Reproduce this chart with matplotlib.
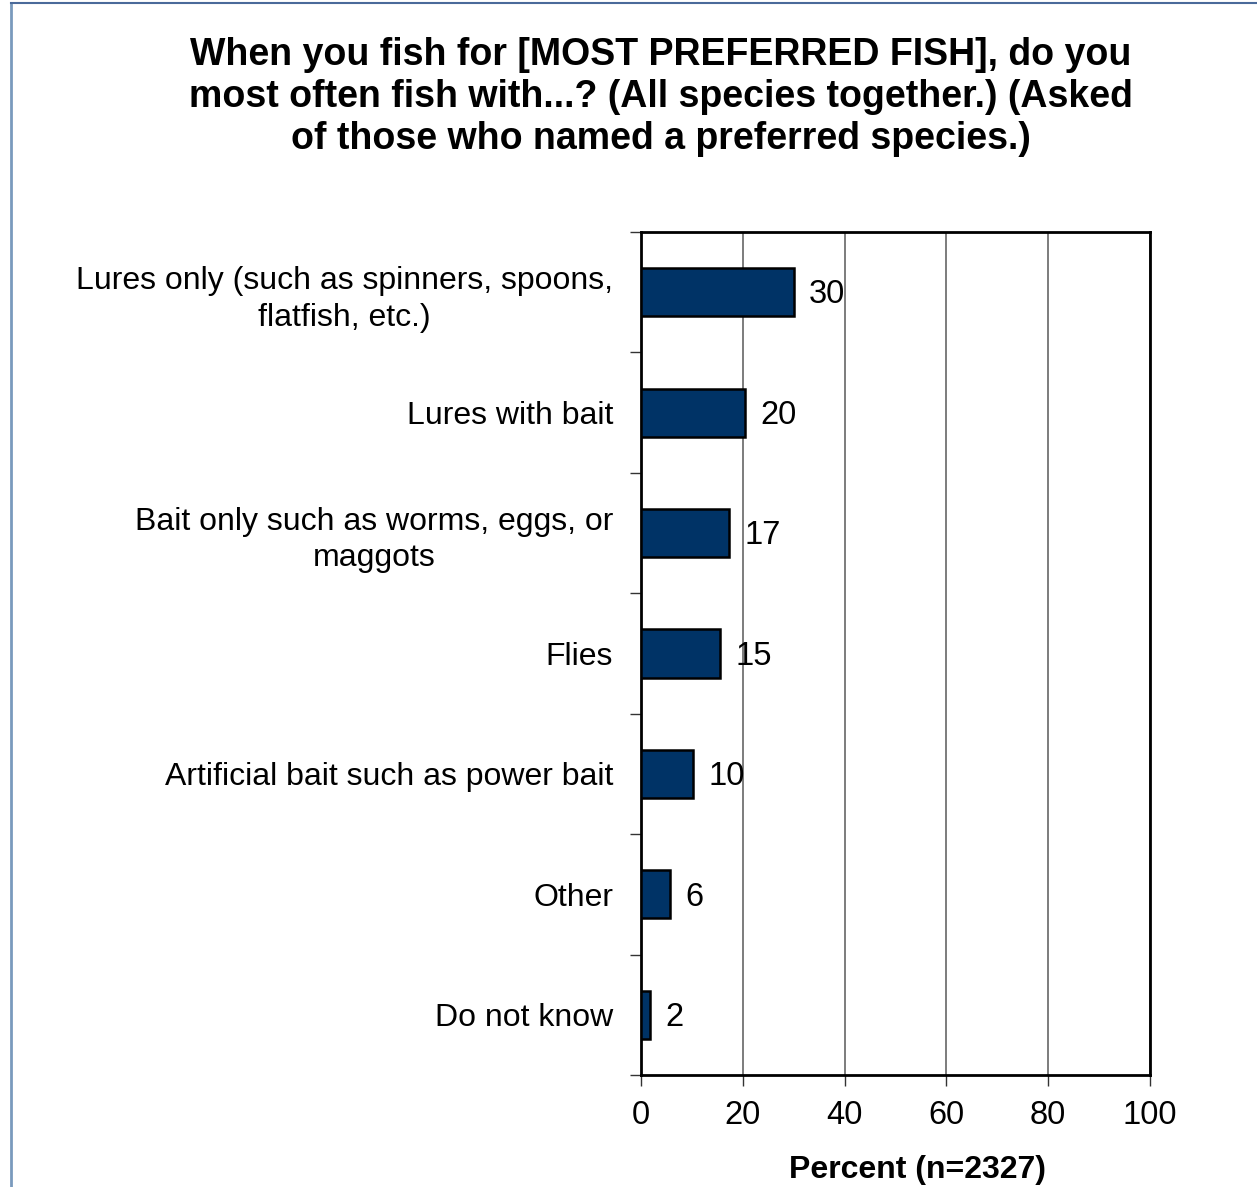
import matplotlib.pyplot as plt
from matplotlib.lines import Line2D
from matplotlib.ticker import FixedLocator

plt.rcParams['font.family'] = ['Liberation Sans', 'DejaVu Sans']

categories = [
    "Lures only (such as spinners, spoons,\nflatfish, etc.)",
    "Lures with bait",
    "Bait only such as worms, eggs, or\nmaggots",
    "Flies",
    "Artificial bait such as power bait",
    "Other",
    "Do not know",
]
values = [30.0, 20.4, 17.3, 15.5, 10.2, 5.7, 1.8]
value_labels = ["30", "20", "17", "15", "10", "6", "2"]
xticks = [0, 20, 40, 60, 80, 100]

W, H = 1257, 1187
fig = plt.figure(figsize=(W / 100, H / 100), dpi=100)
ax = fig.add_axes([641 / W, 1 - 1075 / H, (1150 - 641) / W, (1075 - 232) / H])

n = len(categories)
ypos = list(range(n))
ax.barh(ypos, values, height=0.4, color="#003366", edgecolor="black", linewidth=1.8, zorder=3)
for y, v, lab in zip(ypos, values, value_labels):
    ax.annotate(lab, (v, y), xytext=(11, -2), textcoords="offset points",
                va="center", ha="left", fontsize=23.5, zorder=4)

ax.set_xlim(0, 100)
ax.set_ylim(n - 0.5, -0.5)
ax.set_xticks(xticks)
ax.set_xticklabels([str(t) for t in xticks], fontsize=23.5)
ax.set_yticks(ypos)
ax.set_yticklabels(categories, fontsize=23, multialignment="center", linespacing=1.3)
ax.yaxis.set_minor_locator(FixedLocator([i - 0.5 for i in range(n + 1)]))
ax.tick_params(axis="y", which="major", length=0, pad=20)
ax.tick_params(axis="y", which="minor", length=8, width=1, color="#333333")
ax.tick_params(axis="x", which="major", length=8, width=1, color="#333333", pad=10)
ax.xaxis.grid(True, color="#666666", linewidth=1.2, zorder=0)
ax.set_axisbelow(True)
for s in ax.spines.values():
    s.set_linewidth(2)
    s.set_color("black")

fig.text(661 / W, 1 - 97 / H,
         "When you fish for [MOST PREFERRED FISH], do you\n"
         "most often fish with...? (All species together.) (Asked\n"
         "of those who named a preferred species.)",
         ha="center", va="center", fontsize=27, fontweight="bold", linespacing=1.22)
fig.text(918 / W, 1 - 1170 / H, "Percent (n=2327)", ha="center", va="center",
         fontsize=23, fontweight="bold")

# frame of the original slide
fig.add_artist(Line2D([11 / W, 11 / W], [0, 1 - 3 / H], color="#7a9abd", linewidth=2,
                      transform=fig.transFigure))
fig.add_artist(Line2D([11 / W, 1], [1 - 3 / H, 1 - 3 / H], color="#4a6a9a", linewidth=1.5,
                      transform=fig.transFigure))

fig.savefig("out.png", dpi=100)
